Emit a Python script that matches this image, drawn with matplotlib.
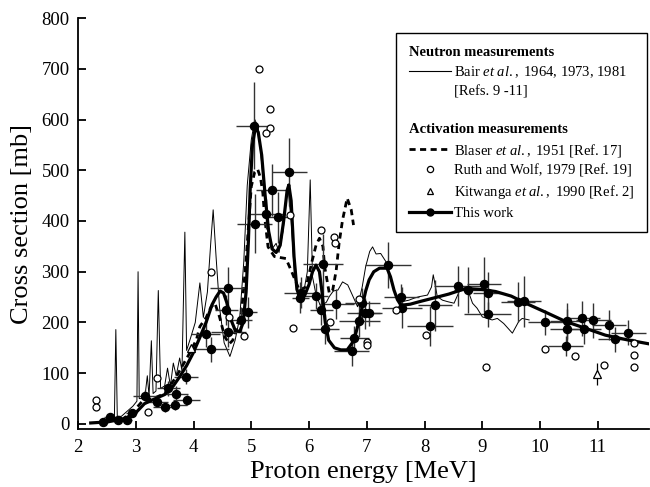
import matplotlib
matplotlib.use("Agg")
import matplotlib.pyplot as plt
from matplotlib.lines import Line2D

plt.rcParams["font.family"] = ["Liberation Serif", "DejaVu Serif"]
plt.rcParams["mathtext.fontset"] = "custom"
plt.rcParams["mathtext.rm"] = "Liberation Serif"
plt.rcParams["mathtext.it"] = "Liberation Serif:italic"

# Neutron measurements (Bair et al.), thin line
BAIR_E = [2.25, 2.4, 2.55, 2.63, 2.655, 2.68, 2.75, 2.85, 2.95, 3.02, 3.04, 3.06,
          3.12, 3.17, 3.2, 3.23, 3.27, 3.3, 3.35, 3.39, 3.43, 3.5, 3.55, 3.6,
          3.65, 3.7, 3.76, 3.8, 3.85, 3.88, 3.95, 4.03, 4.11, 4.17, 4.24, 4.3,
          4.34, 4.39, 4.45, 4.53, 4.63, 4.72, 4.8, 4.87, 4.93, 5.0, 5.06, 5.12,
          5.2, 5.28, 5.36, 5.43, 5.48, 5.55, 5.63, 5.69, 5.75, 5.82, 5.9, 5.97,
          6.02, 6.06, 6.12, 6.2, 6.3, 6.35, 6.42, 6.5, 6.58, 6.67, 6.75, 6.84,
          6.92, 6.98, 7.05, 7.1, 7.16, 7.24, 7.33, 7.4, 7.47, 7.56, 7.65, 7.73,
          7.82, 7.91, 8.05, 8.12, 8.15, 8.19, 8.22, 8.31, 8.4, 8.51, 8.6, 8.74,
          8.83, 8.91, 9.0, 9.17, 9.26, 9.37, 9.52, 9.63, 9.69, 9.81]
BAIR_SIG = [2, 4, 8, 12, 186, 15, 15, 25, 35, 45, 300, 50,
            50, 65, 95, 55, 164, 60, 65, 263, 70, 75, 110, 75,
            120, 95, 130, 105, 378, 145, 170, 200, 278, 210, 260, 360,
            422, 330, 230, 160, 133, 165, 210, 320, 470, 560, 600, 585,
            490, 400, 345, 356, 338, 380, 472, 400, 290, 245, 255, 300,
            481, 290, 255, 232, 240, 251, 262, 264, 280, 274, 254, 231,
            270, 310, 340, 349, 335, 336, 320, 290, 264, 238, 242, 244,
            248, 251, 254, 270, 294, 270, 251, 244, 241, 238, 261, 267,
            238, 228, 211, 205, 208, 198, 179, 202, 208, 205]

# Activation measurements (Blaser et al.), dashed line
BLASER_E = [2.75, 2.9, 3.0, 3.13, 3.3, 3.5, 3.7, 3.93, 4.05, 4.11, 4.22, 4.3,
            4.37, 4.45, 4.54, 4.62, 4.68, 4.74, 4.83, 4.91, 5.0, 5.06, 5.11,
            5.16, 5.2, 5.23, 5.29, 5.4, 5.6, 5.7, 5.83, 5.95, 6.05, 6.12, 6.18,
            6.24, 6.27, 6.35, 6.41, 6.47, 6.52, 6.58, 6.66, 6.73, 6.77]
BLASER_SIG = [8, 20, 30, 47, 50, 60, 93, 139, 166, 192, 210, 230,
              238, 211, 172, 158, 165, 192, 218, 323, 468, 497, 502,
              485, 455, 409, 349, 330, 326, 300, 264, 270, 320, 352, 366,
              350, 310, 258, 264, 303, 356, 402, 445, 422, 392]

# Ruth and Wolf (open circles)
RUTH_E = [2.32, 2.32, 3.21, 3.36, 4.31, 4.61, 4.87, 5.13, 5.32, 5.32, 5.26, 5.67,
          5.72, 6.21, 6.44, 6.45, 6.36, 6.86, 7.0, 7.0, 7.5, 8.03, 9.07, 10.09,
          10.61, 11.11, 11.63, 11.63, 11.63]
RUTH_SIG = [47, 34, 24, 90, 300, 210, 173, 700, 620, 583, 574, 412,
            190, 382, 369, 357, 200, 247, 161, 155, 225, 175, 113, 148,
            134, 116, 159, 135, 112]

# Kitwanga et al. (open triangles)
KIT_E = [3.96, 10.99]
KIT_SIG = [149, 98]
KIT_ERR = [0, 22]

# This work: points with energy and cross-section uncertainties
WORK_E = [2.44, 2.55, 2.70, 2.84, 2.93, 3.16, 3.36, 3.50, 3.56, 3.68, 3.70, 3.88,
          3.87, 4.21, 4.31, 4.60, 4.57, 4.60, 4.82, 4.95, 5.04, 5.06, 5.26, 5.36,
          5.46, 5.66, 5.86, 5.85, 6.12, 6.24, 6.21, 6.27, 6.47, 6.74, 6.78, 6.87,
          6.96, 7.03, 6.92, 7.37, 7.61, 7.60, 8.10, 8.18, 8.57, 8.76, 9.03, 9.09,
          9.09, 9.62, 9.72, 10.09, 10.47, 10.47, 10.44, 10.73, 10.76, 10.92,
          11.19, 11.30, 11.53]
WORK_SIG = [3, 14, 8, 8, 21, 56, 44, 34, 70, 37, 60, 47,
            93, 177, 147, 267, 225, 182, 205, 220, 588, 395, 414, 461,
            407, 496, 259, 249, 252, 315, 225, 187, 236, 144, 169, 202,
            218, 218, 238, 313, 229, 251, 193, 234, 272, 264, 275, 259,
            216, 240, 242, 200, 203, 187, 154, 208, 187, 204,
            195, 167, 180]
WORK_DE = [0.1, 0.1, 0.1, 0.1, 0.1, 0.2, 0.2, 0.2, 0.2, 0.2, 0.2, 0.23,
           0.2, 0.25, 0.3, 0.32, 0.2, 0.3, 0.2, 0.15, 0.3, 0.3, 0.3, 0.28,
           0.15, 0.3, 0.3, 0.15, 0.2, 0.35, 0.2, 0.25, 0.3, 0.3, 0.25, 0.35,
           0.3, 0.2, 0.3, 0.4, 0.35, 0.3, 0.4, 0.3, 0.4, 0.25, 0.3, 0.25,
           0.4, 0.3, 0.3, 0.3, 0.3, 0.3, 0.3, 0.3, 0.3, 0.3,
           0.3, 0.3, 0.3]
WORK_DSIG = [3, 5, 5, 5, 8, 10, 10, 10, 15, 10, 15, 10,
             15, 25, 25, 43, 30, 30, 25, 30, 85, 59, 30, 52,
             50, 67, 30, 30, 25, 60, 30, 30, 30, 30, 25, 30,
             30, 25, 30, 46, 40, 25, 40, 50, 40, 45, 55, 40,
             25, 40, 50, 25, 35, 40, 20, 35, 30, 35,
             30, 25, 25]

# This work: fitted curve
FIT_E = [2.22, 2.5, 2.8, 3.0, 3.15, 3.3, 3.5, 3.65, 3.76, 3.88, 3.99, 4.1,
         4.22, 4.32, 4.39, 4.46, 4.52, 4.58, 4.65, 4.72, 4.80, 4.86, 4.91,
         4.95, 4.98, 5.02, 5.07, 5.12, 5.18, 5.24, 5.3, 5.36, 5.43, 5.5, 5.56,
         5.62, 5.65, 5.69, 5.74, 5.79, 5.85, 5.92, 6.0, 6.06, 6.12, 6.18, 6.23,
         6.28, 6.34, 6.44, 6.55, 6.66, 6.75, 6.81, 6.87, 6.92, 6.98, 7.04,
         7.12, 7.22, 7.35, 7.41, 7.47, 7.53, 7.59, 7.75, 7.91, 8.15, 8.42,
         8.71, 9.0, 9.23, 9.5, 9.75, 10.1, 10.44, 10.8, 11.13, 11.5, 11.88]
FIT_SIG = [2, 4, 10, 22, 40, 48, 58, 75, 93, 115, 139, 168,
           201, 235, 250, 262, 258, 238, 205, 185, 182, 200, 260,
           360, 460, 550, 584, 575, 530, 450, 380, 345, 338, 352, 400,
           460, 471, 440, 330, 265, 248, 252, 275, 300, 313, 300, 255,
           200, 165, 150, 146, 146, 160, 179, 205, 231, 262, 284,
           300, 307, 307, 290, 264, 245, 234, 236, 241, 248, 256,
           267, 265, 261, 252, 238, 220, 202, 188, 175, 166, 158]

X_TICKS = [2, 3, 4, 5, 6, 7, 8, 9, 10, 11]
Y_TICKS = [0, 100, 200, 300, 400, 500, 600, 700, 800]

LEGEND_LABELS = [
    "Neutron measurements",
    r"Bair $\it{et\ al.,}$ 1964, 1973, 1981",
    "[Refs. 9 -11]",
    " ",
    "Activation measurements",
    r"Blaser $\it{et\ al.,}$ 1951 [Ref. 17]",
    "Ruth and Wolf, 1979 [Ref. 19]",
    r"Kitwanga $\it{et\ al.,}$ 1990 [Ref. 2]",
    "This work",
]
HEADER_ROWS = (0, 4)


def main() -> None:
    fig = plt.figure(figsize=(6.5, 4.87), dpi=100)
    ax = fig.add_axes([0.12, 0.119, 0.878, 0.844])

    ax.plot(BAIR_E, BAIR_SIG, color="black", linewidth=0.7, zorder=2)
    ax.plot(BLASER_E, BLASER_SIG, color="black", linewidth=2.0,
            linestyle=(0, (2.2, 1.6)), zorder=3)
    ax.errorbar(WORK_E, WORK_SIG, xerr=WORK_DE, yerr=WORK_DSIG, fmt="none",
                ecolor="0.2", elinewidth=1.0, capsize=0, zorder=4)
    ax.plot(FIT_E, FIT_SIG, color="black", linewidth=2.3, zorder=5)
    ax.plot(WORK_E, WORK_SIG, linestyle="none", marker="o", markersize=5.8,
            color="black", zorder=6)
    ax.plot(RUTH_E, RUTH_SIG, linestyle="none", marker="o", markersize=5,
            markerfacecolor="white", markeredgecolor="black",
            markeredgewidth=0.9, zorder=6)
    ax.errorbar(KIT_E, KIT_SIG, yerr=KIT_ERR, fmt="^", markersize=5.5,
                markerfacecolor="white", markeredgecolor="black",
                markeredgewidth=0.9, ecolor="black", elinewidth=0.9,
                capsize=0, zorder=6)

    ax.set_xlim(2, 11.88)
    ax.set_ylim(-10, 800)
    ax.set_xticks(X_TICKS)
    ax.set_yticks(Y_TICKS)
    ax.spines["top"].set_visible(False)
    ax.spines["right"].set_visible(False)
    for side in ("left", "bottom"):
        ax.spines[side].set_linewidth(1.3)
    ax.tick_params(axis="both", direction="in", length=6, width=1.3,
                   labelsize=13.5)
    ax.tick_params(axis="x", pad=7)
    ax.tick_params(axis="y", pad=6)
    ax.set_xlabel("Proton energy [MeV]", fontsize=19, labelpad=4)
    ax.set_ylabel("Cross section [mb]", fontsize=19, labelpad=6)

    # legend with two bold section headers (rows without a handle)
    blank = Line2D([], [], linestyle="none")
    handles = [
        blank,
        Line2D([], [], color="black", linewidth=0.8),
        blank,
        blank,
        blank,
        Line2D([], [], color="black", linewidth=2.0, linestyle=(0, (2.2, 1.6))),
        Line2D([], [], linestyle="none", marker="o", markersize=4.5,
               markerfacecolor="white", markeredgecolor="black",
               markeredgewidth=0.9),
        Line2D([], [], linestyle="none", marker="^", markersize=5,
               markerfacecolor="white", markeredgecolor="black",
               markeredgewidth=0.9),
        Line2D([], [], color="black", linewidth=2.3, marker="o", markersize=5),
    ]
    fs = 10.5
    hl, hp = 2.9, 0.2
    leg = ax.legend(handles, LEGEND_LABELS, loc="upper left",
                    bbox_to_anchor=(0.5577, 0.9635), borderaxespad=0,
                    fontsize=fs, handlelength=hl, handletextpad=hp,
                    labelspacing=0.38, borderpad=0.85, numpoints=1,
                    fancybox=False, framealpha=1, edgecolor="black")
    leg.get_frame().set_linewidth(1.0)
    # pull headers left so they start where the handles start
    shift_px = (hl + hp) * fs * fig.dpi / 72
    for i in HEADER_ROWS:
        txt = leg.get_texts()[i]
        txt.set_fontweight("bold")
        txt.set_x(-shift_px)

    fig.savefig("out.png", dpi=100)
    plt.close(fig)


if __name__ == "__main__":
    main()
